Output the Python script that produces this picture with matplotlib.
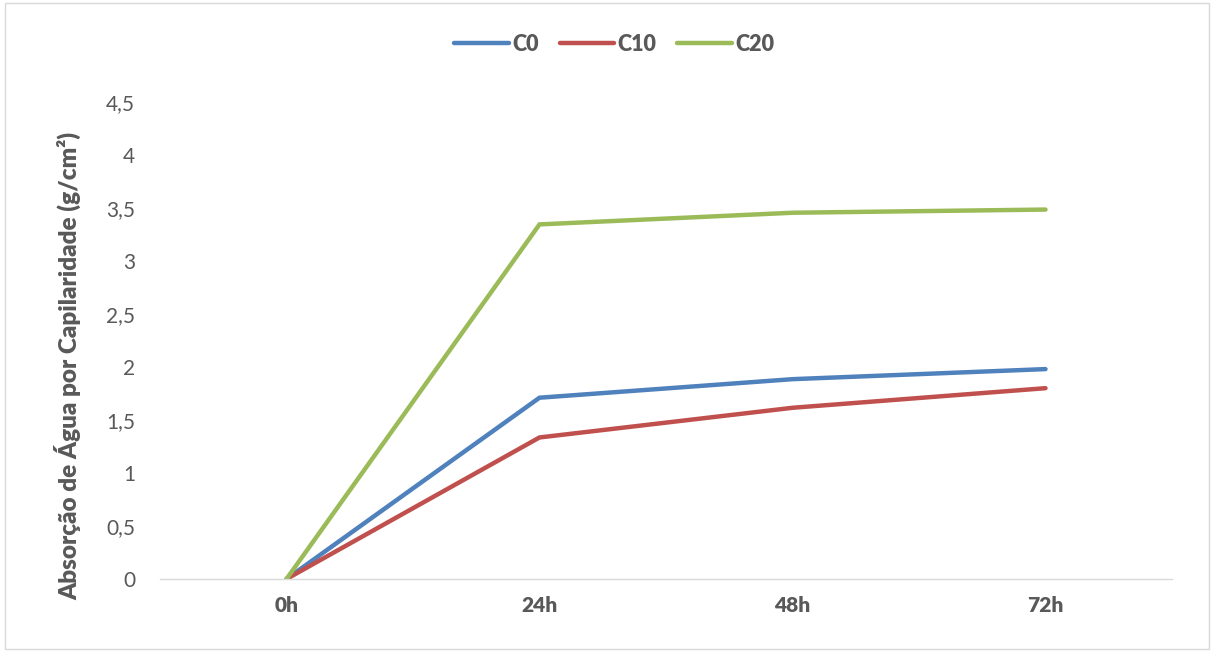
import matplotlib.pyplot as plt
from matplotlib.patches import Rectangle
from matplotlib.ticker import FuncFormatter

plt.rcParams['font.family'] = ['Lato', 'DejaVu Sans']

# data
tempos = ['0h', '24h', '48h', '72h']
c0 = [0.0, 1.71, 1.885, 1.98]
c10 = [0.0, 1.335, 1.615, 1.80]
c20 = [0.0, 3.345, 3.455, 3.485]

txt = '#595959'

fig = plt.figure(figsize=(12.14, 6.52), dpi=100)
ax = fig.add_axes([0.1318, 0.112, 0.8336, 0.7316])

x = range(len(tempos))
ax.plot(x, c0, color='#4F81BD', lw=3.2, solid_capstyle='round', solid_joinstyle='miter', label='C0')
ax.plot(x, c10, color='#C0504D', lw=3.2, solid_capstyle='round', solid_joinstyle='miter', label='C10')
ax.plot(x, c20, color='#9BBB59', lw=3.2, solid_capstyle='round', solid_joinstyle='miter', label='C20')

ax.set_xlim(-0.5, len(tempos) - 0.5)
ax.set_ylim(0, 4.5)
ax.set_xticks(list(x))
ax.set_xticklabels(tempos, fontweight='heavy', color=txt, fontsize=15)
ax.set_yticks([i * 0.5 for i in range(10)])
ax.yaxis.set_major_formatter(FuncFormatter(lambda v, p: ('%g' % v).replace('.', ',')))
ax.tick_params(axis='y', colors=txt, labelsize=15, length=0, pad=18)
ax.tick_params(axis='x', length=0, pad=12)

for s in ['top', 'right', 'left']:
    ax.spines[s].set_visible(False)
ax.spines['bottom'].set_color('#D9D9D9')
ax.spines['bottom'].set_linewidth(1)

ax.set_ylabel('Absorção de Água por Capilaridade (g/cm²)', fontsize=17.5, fontweight='heavy',
              color=txt)
ax.yaxis.set_label_coords(-0.078, 0.447)

leg = fig.legend(loc='center', bbox_to_anchor=(0.506, 0.932), ncol=3, frameon=False,
                 prop={'size': 15.5, 'weight': 'heavy'},
                 handlelength=2.55, columnspacing=0.95, handletextpad=0.15)
for t in leg.get_texts():
    t.set_color(txt)

fig.patches.append(Rectangle((0.004, 0.004), 0.992, 0.992, transform=fig.transFigure,
                             fill=False, edgecolor='#D9D9D9', lw=1))

fig.savefig('out.png', dpi=100)
